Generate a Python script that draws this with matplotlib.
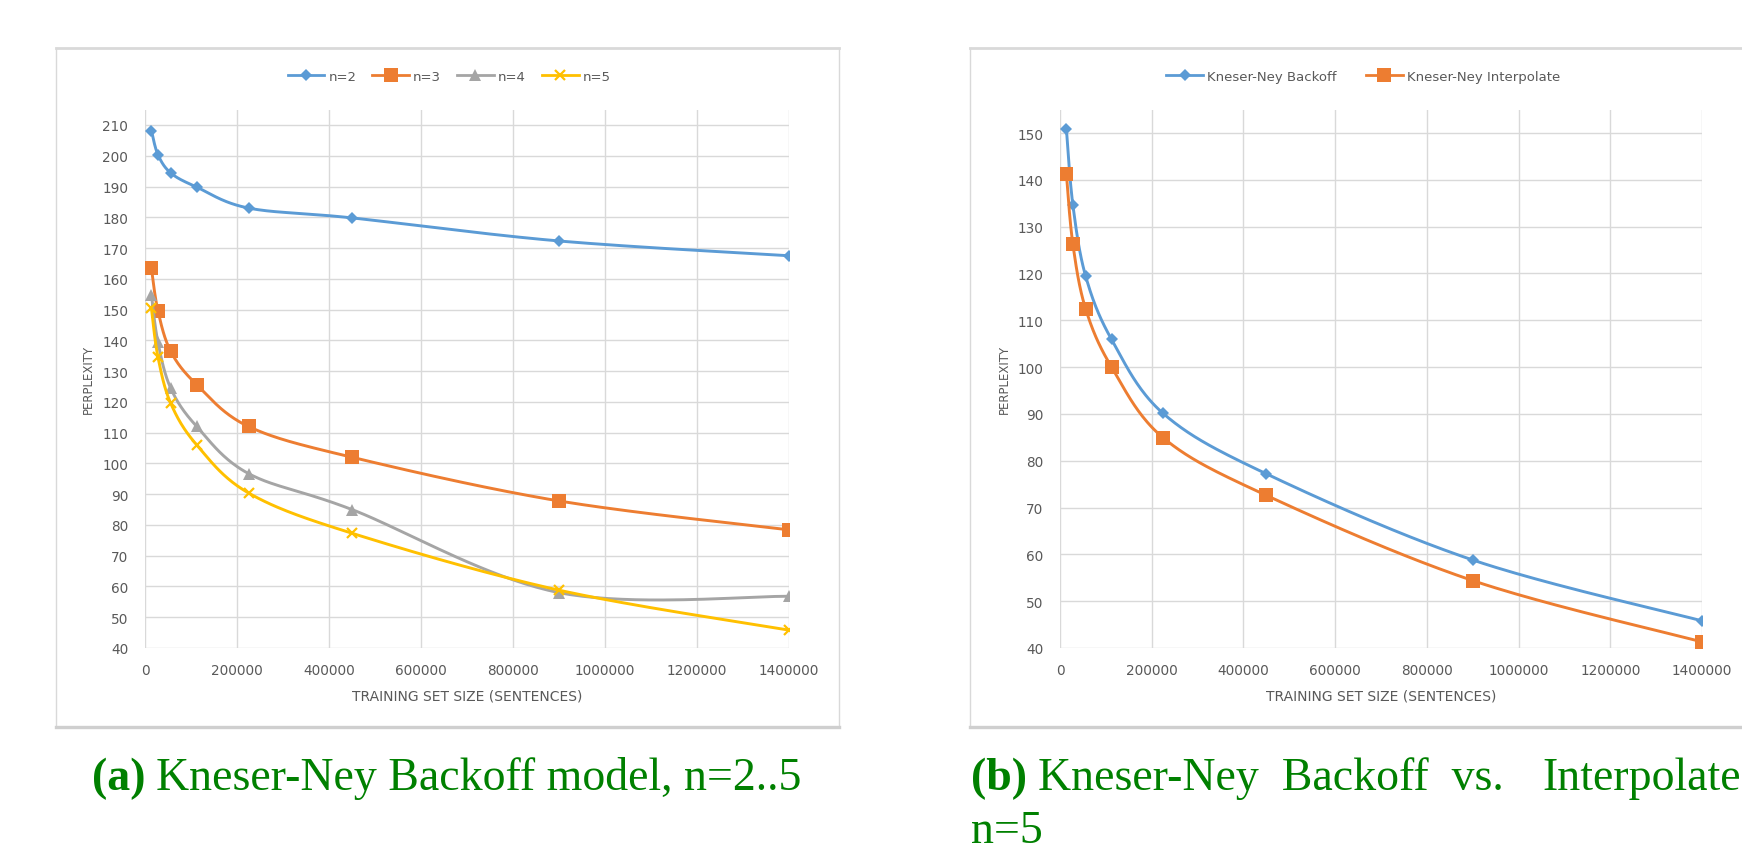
import numpy as np
import matplotlib
matplotlib.use("Agg")
import matplotlib.pyplot as plt
from matplotlib.lines import Line2D

# ---------------- data ----------------
train_sizes = [14000, 28000, 56000, 112500, 225000, 450000, 900000, 1400000]

left_labels = ["n=2", "n=3", "n=4", "n=5"]
ppl_n2 = [208.2, 200.4, 194.4, 189.8, 183.0, 179.8, 172.3, 167.5]
ppl_n3 = [163.4, 149.7, 136.4, 125.6, 112.0, 102.0, 87.8, 78.4]
ppl_n4 = [154.8, 139.5, 124.4, 112.0, 96.7, 85.0, 58.0, 56.8]
ppl_n5 = [150.4, 134.7, 119.5, 106.0, 90.4, 77.3, 58.8, 45.8]

right_labels = ["Kneser-Ney Backoff", "Kneser-Ney Interpolate"]
ppl_backoff = [150.8, 134.7, 119.4, 105.9, 90.1, 77.2, 58.8, 45.8]
ppl_interp = [141.2, 126.3, 112.4, 100.0, 84.9, 72.6, 54.4, 41.3]

x_ticks = [0, 200000, 400000, 600000, 800000, 1000000, 1200000, 1400000]
left_yticks = list(range(40, 211, 10))
right_yticks = list(range(40, 151, 10))

caption_a_bold = "(a)"
caption_a_rest = "Kneser-Ney Backoff model, n=2..5"
caption_b_bold = "(b)"
caption_b_rest = "Kneser-Ney  Backoff  vs."
caption_b_last = "Interpolate"
caption_b_line2 = "n=5"

# ---------------- style ----------------
BLUE, ORANGE, GRAY, GOLD = "#5b9bd5", "#ed7d31", "#a5a5a5", "#ffc000"
TXT = "#595959"
GRID = "#d9d9d9"
GREEN = "#008000"

W, H = 1742, 854
fig = plt.figure(figsize=(W / 100, H / 100), dpi=100)
fig.patch.set_facecolor("white")


def smooth(x, y, n=40):
    """Excel-like smoothed line: cubic Bezier with Catmull-Rom control points."""
    x = np.asarray(x, float)
    y = np.asarray(y, float)
    P = np.column_stack([x, y])
    pts = []
    for i in range(len(P) - 1):
        p0 = P[i - 1] if i > 0 else P[i]
        p1 = P[i]
        p2 = P[i + 1]
        p3 = P[i + 2] if i + 2 < len(P) else P[i + 1]
        c1 = p1 + (p2 - p0) / 6.0
        c2 = p2 - (p3 - p1) / 6.0
        t = np.linspace(0, 1, n)[:, None]
        seg = ((1 - t) ** 3) * p1 + 3 * ((1 - t) ** 2) * t * c1 + 3 * (1 - t) * t ** 2 * c2 + t ** 3 * p2
        pts.append(seg if i == 0 else seg[1:])
    pts = np.vstack(pts)
    return pts[:, 0], pts[:, 1]


def style_axes(ax, ylim, yticks):
    ax.set_xlim(0, 1400000)
    ax.set_ylim(*ylim)
    ax.set_xticks(x_ticks)
    ax.set_xticklabels([str(v) for v in x_ticks])
    ax.set_yticks(yticks)
    ax.set_yticklabels([str(v) for v in yticks])
    for s in ax.spines.values():
        s.set_visible(False)
    ax.grid(True, color=GRID, lw=1.0, zorder=0)
    ax.set_axisbelow(True)
    ax.tick_params(length=0, colors=TXT, labelsize=9.8)
    ax.tick_params(axis="x", pad=11)
    ax.tick_params(axis="y", pad=12)
    ax.set_xlabel("TRAINING SET SIZE (SENTENCES)", fontsize=10, color=TXT)
    ax.set_ylabel("PERPLEXITY", fontsize=8.5, color=TXT)
    ax.xaxis.set_label_coords(0.5, -0.076)
    ax.xaxis.label.set_verticalalignment("top")


marker_style = {
    "D": dict(marker="D", ms=6.2, mew=0),
    "s": dict(marker="s", ms=10.0, mew=0),
    "^": dict(marker="^", ms=8.2, mew=0),
    "x": dict(marker="x", ms=6.8, mew=1.6),
}


def draw_series(ax, x, y, color, mk, z):
    sx, sy = smooth(x, y)
    ax.plot(sx, sy, color=color, lw=2.1, zorder=z, solid_capstyle="round")
    ax.plot(x, y, ls="none", color=color, mfc=color, mec=color, zorder=z + 0.5, **marker_style[mk])
    return Line2D([], [], color=color, lw=2.0, mfc=color, mec=color, **marker_style[mk])


# ---------------- left chart ----------------
axL = fig.add_axes([145 / W, 1 - 649 / H, 644 / W, (649 - 110.6) / H])
style_axes(axL, (40, 215), left_yticks)
axL.yaxis.set_label_coords(-0.0784, 0.5)
hL = []
for yv, c, m, z in zip([ppl_n2, ppl_n3, ppl_n4, ppl_n5], [BLUE, ORANGE, GRAY, GOLD],
                       ["D", "s", "^", "x"], [3, 4, 5, 6]):
    hL.append(draw_series(axL, train_sizes, yv, c, m, z))
fig.legend(hL, left_labels, loc="center", bbox_to_anchor=(449 / W, 1 - 77.5 / H), ncol=4,
           frameon=False, fontsize=9.5, handlelength=2.8, handletextpad=0.3, columnspacing=1.2,
           labelcolor=TXT)

# ---------------- right chart ----------------
axR = fig.add_axes([1060 / W, 1 - 649 / H, 642 / W, (649 - 110.6) / H])
style_axes(axR, (40, 155), right_yticks)
axR.yaxis.set_label_coords(-0.0763, 0.5)
hR = []
for yv, c, m, z in zip([ppl_backoff, ppl_interp], [BLUE, ORANGE], ["D", "s"], [3, 4]):
    hR.append(draw_series(axR, train_sizes, yv, c, m, z))
fig.legend(hR, right_labels, loc="center", bbox_to_anchor=(1363 / W, 1 - 77.5 / H), ncol=2,
           frameon=False, fontsize=9.5, handlelength=2.8, handletextpad=0.3, columnspacing=2.2,
           labelcolor=TXT)


# ---------------- chart frames ----------------
def frame(x0, x1, ytop, ybot):
    fx0, fx1 = x0 / W, x1 / W
    fyt, fyb = 1 - ytop / H, 1 - ybot / H
    kw = dict(transform=fig.transFigure, color="#d9d9d9", zorder=0.5)
    fig.add_artist(Line2D([fx0, fx1], [fyt, fyt], lw=2.0, **kw))
    fig.add_artist(Line2D([fx0, fx0], [fyt, fyb], lw=1.0, **kw))
    fig.add_artist(Line2D([fx1, fx1], [fyt, fyb], lw=1.0, **kw))
    fig.add_artist(Line2D([fx0, fx1], [fyb, fyb], lw=2.4, transform=fig.transFigure,
                          color="#cfcfcf", zorder=0.5))


frame(55.5, 839, 48.5, 728)
frame(970, 1760, 48.5, 728)

# ---------------- captions ----------------
cap_kw = dict(family=["Liberation Serif", "DejaVu Serif"], fontsize=33, color=GREEN, va="baseline")
ta = fig.text(92 / W, 1 - 790 / H, caption_a_bold, fontweight="bold", **cap_kw)
tb = fig.text(971 / W, 1 - 790 / H, caption_b_bold, fontweight="bold", **cap_kw)
fig.text(971 / W, 1 - 843 / H, caption_b_line2, **cap_kw)
fig.text(1741 / W, 1 - 790 / H, caption_b_last, ha="right", **cap_kw)
fig.canvas.draw()
r = fig.canvas.get_renderer()
ea = ta.get_window_extent(r)
eb = tb.get_window_extent(r)
fig.text((ea.x1 + 10) / W, 1 - 790 / H, caption_a_rest, **cap_kw)
fig.text((eb.x1 + 11) / W, 1 - 790 / H, caption_b_rest, **cap_kw)

fig.savefig("out.png", dpi=100, facecolor="white")
